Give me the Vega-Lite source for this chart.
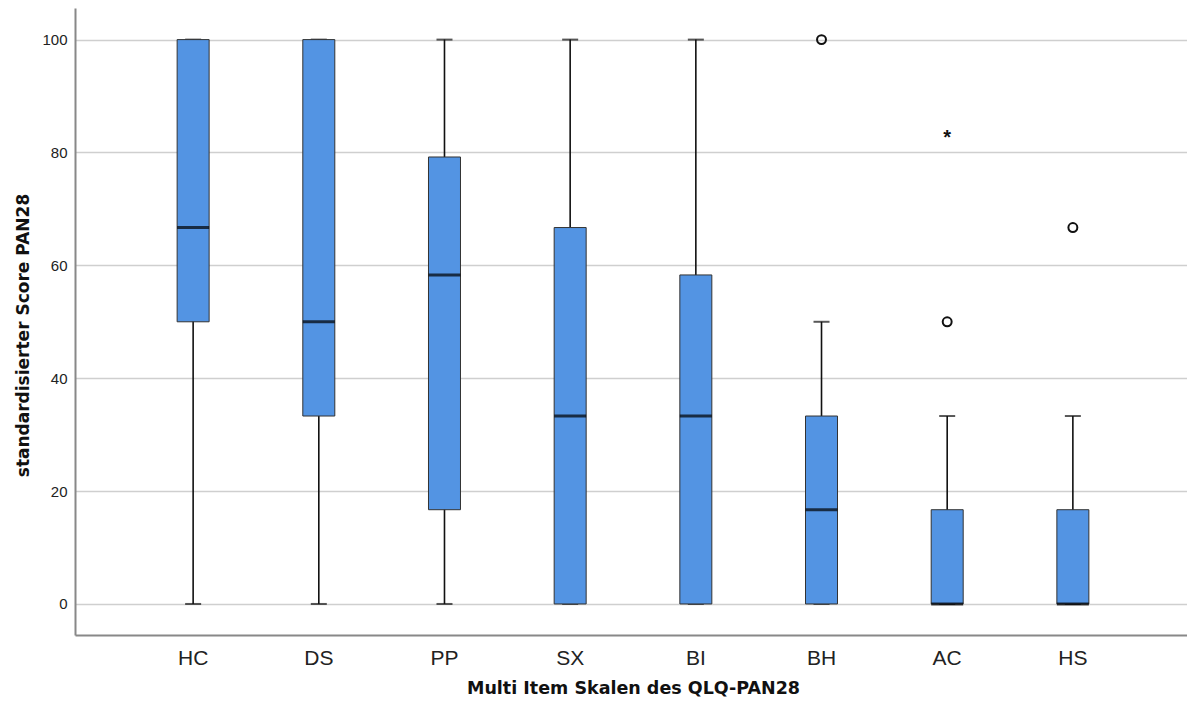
{
  "$schema": "https://vega.github.io/schema/vega-lite/v6.json",
  "autosize": {"type": "none"},
  "width": 1116,
  "height": 627,
  "padding": {"left": 75, "top": 8, "right": 0, "bottom": 70},
  "background": "white",
  "config": {
    "view": {"stroke": null},
    "font": "Liberation Sans"
  },
  "datasets": {
    "boxes": [
      {"skala": "HC", "min": 0, "q1": 50, "median": 66.7, "q3": 100, "max": 100},
      {"skala": "DS", "min": 0, "q1": 33.3, "median": 50, "q3": 100, "max": 100},
      {"skala": "PP", "min": 0, "q1": 16.7, "median": 58.3, "q3": 79.2, "max": 100},
      {"skala": "SX", "min": 0, "q1": 0, "median": 33.3, "q3": 66.7, "max": 100},
      {"skala": "BI", "min": 0, "q1": 0, "median": 33.3, "q3": 58.3, "max": 100},
      {"skala": "BH", "min": 0, "q1": 0, "median": 16.7, "q3": 33.3, "max": 50},
      {"skala": "AC", "min": 0, "q1": 0, "median": 0, "q3": 16.7, "max": 33.3},
      {"skala": "HS", "min": 0, "q1": 0, "median": 0, "q3": 16.7, "max": 33.3}
    ],
    "outliers": [
      {"skala": "BH", "wert": 100, "typ": "Ausreißer"},
      {"skala": "AC", "wert": 50, "typ": "Ausreißer"},
      {"skala": "AC", "wert": 83.3, "typ": "Extremwert"},
      {"skala": "HS", "wert": 66.7, "typ": "Ausreißer"}
    ]
  },
  "encoding": {
    "x": {
      "field": "skala",
      "type": "nominal",
      "sort": ["HC", "DS", "PP", "SX", "BI", "BH", "AC", "HS"],
      "scale": {"paddingInner": 0, "paddingOuter": 0.44},
      "axis": {
        "title": "Multi Item Skalen des QLQ-PAN28",
        "titleFont": "DejaVu Sans",
        "titleFontSize": 17.5,
        "titleFontWeight": "bold",
        "titleColor": "#111",
        "titlePadding": 11,
        "labelAngle": 0,
        "labelFontSize": 21,
        "labelColor": "#222",
        "labelPadding": 12,
        "ticks": false,
        "domainColor": "#888",
        "domainWidth": 2,
        "grid": false
      }
    }
  },
  "layer": [
    {
      "data": {"name": "boxes"},
      "mark": {"type": "rule", "color": "#111", "strokeWidth": 1.6},
      "encoding": {
        "y": {
          "field": "min",
          "type": "quantitative",
          "scale": {"domain": [-5.5, 105.6], "nice": false, "zero": false},
          "axis": {
            "title": "standardisierter Score PAN28",
            "titleFont": "DejaVu Sans",
            "titleFontSize": 17,
            "titleFontWeight": "bold",
            "titleColor": "#111",
            "titlePadding": 9,
            "titleY": 327,
            "values": [0, 20, 40, 60, 80, 100],
            "labelFontSize": 15,
            "labelColor": "#222",
            "labelPadding": 8,
            "ticks": false,
            "domainColor": "#888",
            "domainWidth": 2,
            "grid": true,
            "gridColor": "#cfcfcf",
            "gridWidth": 1.5
          }
        },
        "y2": {"field": "max"}
      }
    },
    {
      "data": {"name": "boxes"},
      "mark": {"type": "tick", "color": "#111", "size": 16, "thickness": 2},
      "encoding": {"y": {"field": "min", "type": "quantitative"}}
    },
    {
      "data": {"name": "boxes"},
      "mark": {"type": "tick", "color": "#111", "size": 16, "thickness": 2},
      "encoding": {"y": {"field": "max", "type": "quantitative"}}
    },
    {
      "data": {"name": "boxes"},
      "mark": {"type": "bar", "width": 32, "color": "#5394e3", "stroke": "#333", "strokeWidth": 1},
      "encoding": {
        "y": {"field": "q1", "type": "quantitative"},
        "y2": {"field": "q3"}
      }
    },
    {
      "data": {"name": "boxes"},
      "mark": {"type": "tick", "color": "#000", "size": 32, "thickness": 3},
      "encoding": {"y": {"field": "median", "type": "quantitative"}}
    },
    {
      "data": {"name": "outliers"},
      "transform": [{"filter": "datum.typ === 'Ausreißer'"}],
      "mark": {"type": "point", "shape": "circle", "filled": false, "color": "#111", "strokeWidth": 2, "size": 80, "opacity": 1},
      "encoding": {"y": {"field": "wert", "type": "quantitative"}}
    },
    {
      "data": {"name": "outliers"},
      "transform": [{"filter": "datum.typ === 'Extremwert'"}],
      "mark": {"type": "text", "text": "*", "fontSize": 20, "fontWeight": "bold", "color": "#111", "baseline": "middle", "dy": 4},
      "encoding": {"y": {"field": "wert", "type": "quantitative"}}
    }
  ]
}
